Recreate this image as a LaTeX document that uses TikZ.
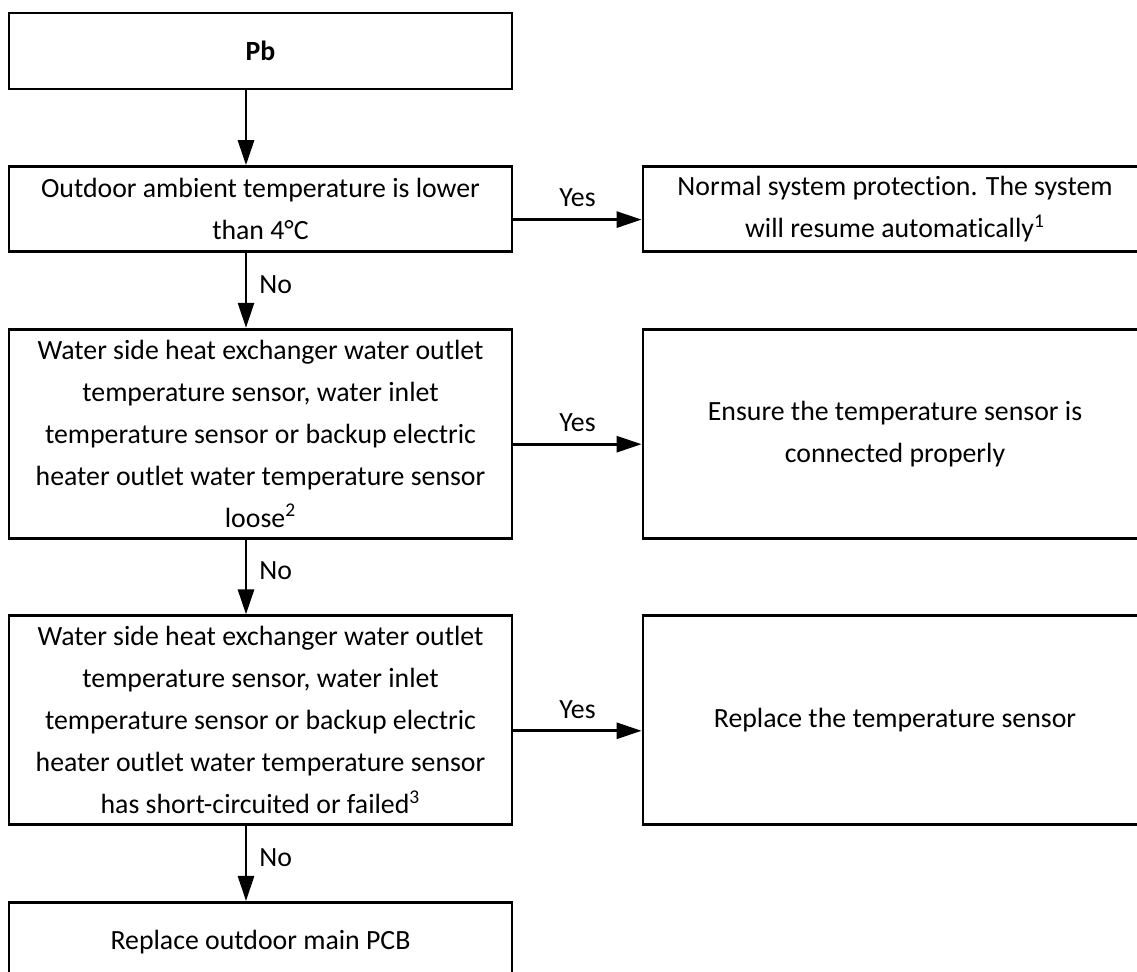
\documentclass[tikz,border=0pt]{standalone}
\usepackage{fontspec}
\setmainfont{Carlito}[Ligatures={NoCommon,NoContextual},Contextuals={NoAlternate}]
\usetikzlibrary{arrows.meta,positioning}

\begin{document}
\begin{tikzpicture}[
  x=0.5pt, y=-0.5pt,
  font=\fontsize{13.9}{21}\selectfont,
  node distance=37.4pt and 64.1pt,
  box/.style={draw, line width=1.4pt, minimum width=251.5pt, inner sep=2pt,
              align=center},
  arr/.style={-{Triangle[length=12.5pt, width=8pt]}, line width=1.4pt},
  lbl/.style={inner sep=2pt}
]
\useasboundingbox (0,0) rectangle (1137,972);
% ---------------- left column ----------------
\node[box, minimum height=38pt, font=\fontsize{13.9}{21}\selectfont\bfseries]
  (pb) at (260.5,51) {Pb};
\node[box, minimum height=42.5pt, below=of pb] (amb)
  {Outdoor ambient temperature is lower\\ than 4°C};
\node[box, minimum height=104.5pt, below=of amb] (loose)
  {Water side heat exchanger water outlet\\ temperature sensor, water inlet\\
   temperature sensor or backup electric\\ heater outlet water temperature sensor\\
   loose\textsuperscript{2}};
\node[box, minimum height=104.5pt, below=of loose] (fail)
  {Water side heat exchanger water outlet\\ temperature sensor, water inlet\\
   temperature sensor or backup electric\\ heater outlet water temperature sensor\\
   has short-circuited or failed\textsuperscript{3}};
\node[box, minimum height=40pt, below=of fail] (pcb) {Replace outdoor main PCB};
% ---------------- right column ----------------
\node[box, minimum width=252pt, minimum height=42.5pt, right=of amb] (prot)
  {Normal system protection. The system\\ will resume automatically\textsuperscript{1}};
\node[box, minimum width=252pt, minimum height=104.5pt, right=of loose] (fix)
  {Ensure the temperature sensor is\\ connected properly};
\node[box, minimum width=252pt, minimum height=104.5pt, right=of fail] (swap)
  {Replace the temperature sensor};
% ---------------- edges ----------------
\draw[arr] ([xshift=-7.25pt]pb.south) -- ([xshift=-7.25pt]amb.north);
\draw[arr] ([xshift=-7.25pt]amb.south) -- node[right=4pt, lbl, pos=0.42] {No}
  ([xshift=-7.25pt]loose.north);
\draw[arr] ([xshift=-7.25pt]loose.south) -- node[right=4pt, lbl, pos=0.42] {No}
  ([xshift=-7.25pt]fail.north);
\draw[arr] ([xshift=-7.25pt]fail.south) -- node[right=4pt, lbl, pos=0.42] {No}
  ([xshift=-7.25pt]pcb.north);
\draw[arr] ([yshift=-5.25pt]amb.east) -- node[above=3.5pt, lbl] {Yes}
  ([yshift=-5.25pt]prot.west);
\draw[arr] ([yshift=-5.25pt]loose.east) -- node[above=3.5pt, lbl] {Yes}
  ([yshift=-5.25pt]fix.west);
\draw[arr] ([yshift=-5.25pt]fail.east) -- node[above=3.5pt, lbl] {Yes}
  ([yshift=-5.25pt]swap.west);
\end{tikzpicture}
\end{document}
